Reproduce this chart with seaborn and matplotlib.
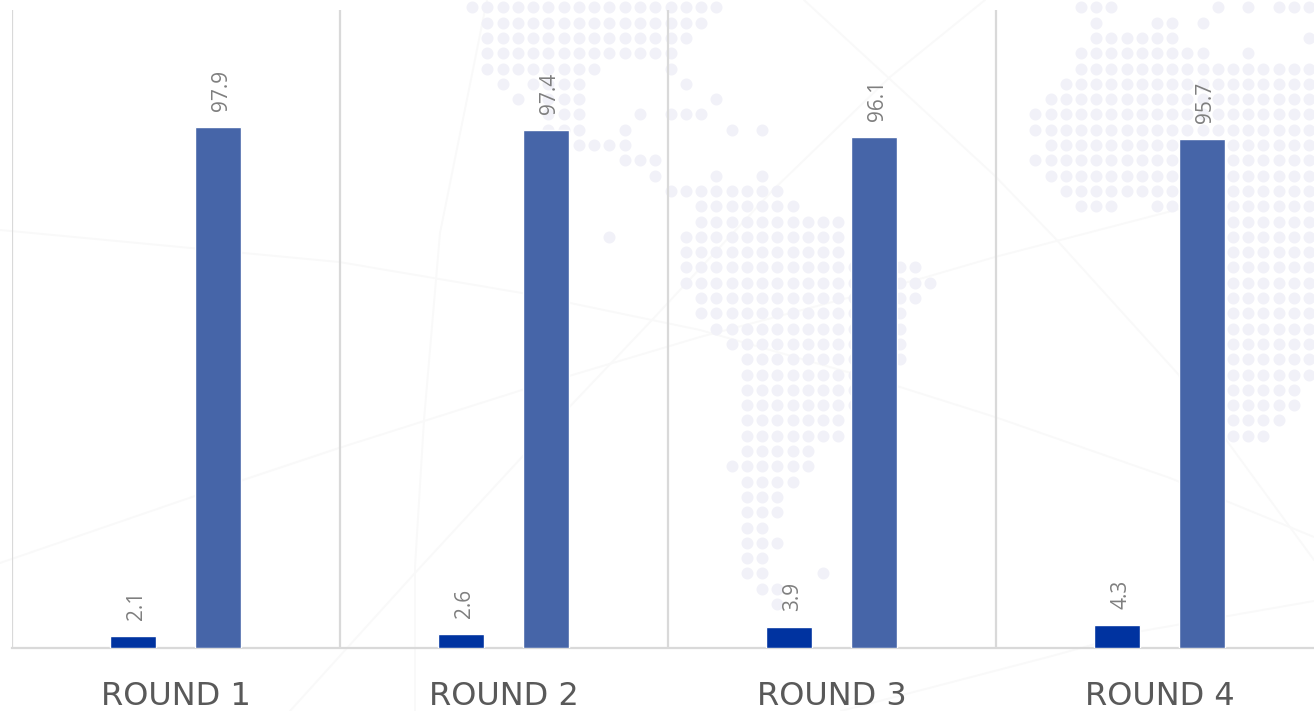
import matplotlib
matplotlib.use("Agg")
import matplotlib.pyplot as plt
import pandas as pd
import seaborn as sns

# chart values
rounds = ["ROUND 1", "ROUND 2", "ROUND 3", "ROUND 4"]
first_values = [2.1, 2.6, 3.9, 4.3]
second_values = [97.9, 97.4, 96.1, 95.7]
bar_colors = ["#0033A0", "#4665A8"]

W, H = 1314, 711

# background watermark: dotted map, (row, first col, last col) on a regular grid
map_left = [
    (0, 0, 16), (1, 1, 15), (2, 1, 14), (3, 1, 13), (4, 1, 8), (4, 13, 13),
    (5, 2, 2), (5, 4, 7), (5, 14, 14), (6, 3, 3), (6, 5, 7), (6, 16, 16),
    (7, 5, 7), (7, 11, 11), (7, 13, 15), (8, 5, 7), (8, 10, 10), (8, 17, 17), (8, 19, 19),
    (9, 7, 10), (10, 10, 12), (11, 12, 12), (11, 16, 16), (11, 19, 19),
    (12, 13, 20), (13, 15, 21), (14, 15, 24), (15, 9, 9), (15, 14, 24), (16, 14, 24),
    (17, 14, 29), (18, 14, 30), (19, 15, 29), (20, 15, 28), (21, 16, 28),
    (22, 17, 28), (23, 18, 28), (24, 18, 27), (25, 18, 27), (26, 18, 27),
    (27, 18, 24), (28, 18, 24), (29, 18, 22), (30, 17, 22), (31, 18, 21),
    (32, 18, 20), (33, 18, 20), (34, 18, 19), (35, 18, 20), (36, 18, 19),
    (37, 18, 19), (37, 23, 23), (38, 19, 20), (39, 20, 20),
]
map_right = [
    (0, 0, 2), (0, 9, 9), (0, 11, 11), (0, 13, 15), (1, 1, 1), (1, 5, 6), (1, 8, 8),
    (2, 1, 6), (2, 15, 15), (3, 0, 8), (3, 11, 11), (4, 0, 15), (5, -1, 15),
    (6, -2, 15), (7, -3, 15), (8, -3, 15), (9, -2, 15), (10, -3, 15), (11, -2, 15),
    (12, -1, 15), (13, 0, 2), (13, 5, 15), (14, 10, 15), (15, 10, 15), (16, 10, 15),
    (17, 10, 15), (18, 10, 15), (19, 10, 15), (20, 10, 15), (21, 10, 15), (22, 10, 15),
    (23, 10, 15), (24, 10, 15), (25, 10, 14), (26, 10, 14), (27, 10, 13), (28, 10, 12),
]

# background watermark: faint network lines
net_lines = [
    [(0, 230), (339, 262), (522, 293), (700, 330), (900, 387), (995, 417), (1170, 478), (1314, 537)],
    [(0, 563), (192, 497), (339, 448), (522, 390), (700, 337), (923, 278), (995, 257), (1195, 205)],
    [(487, 0), (440, 233), (424, 420), (415, 567), (415, 711)],
    [(290, 711), (415, 573), (522, 457), (652, 320), (773, 190), (890, 77), (985, 0)],
    [(804, 0), (994, 175), (1054, 237), (1178, 374), (1314, 560)],
    [(841, 711), (1052, 656), (1142, 631), (1314, 601)],
]

df = pd.DataFrame({
    "round": rounds * 2,
    "value": first_values + second_values,
    "series": ["first"] * 4 + ["second"] * 4,
})

sns.set_theme(style="white")
plt.rcParams["font.family"] = ["Open Sans", "DejaVu Sans"]

fig = plt.figure(figsize=(W / 100, H / 100), dpi=100, facecolor="white")

# full-figure axes in pixel units for the watermark
bg = fig.add_axes([0, 0, 1, 1], zorder=0)
bg.set_xlim(0, W)
bg.set_ylim(H, 0)
bg.axis("off")
for line in net_lines:
    bg.plot([p[0] for p in line], [p[1] for p in line], color="#f9f9f9", lw=1.4, zorder=1)
for spans, x0, pitch in [(map_left, 472, 15.27), (map_right, 1081, 15.2)]:
    xs, ys = [], []
    for row, c1, c2 in spans:
        for c in range(c1, c2 + 1):
            xs.append(x0 + c * pitch)
            ys.append(7.3 + row * 15.3)
    bg.scatter(xs, ys, s=74, color="#f1f1f8", linewidths=0, zorder=2)

# main axes, runs past the right edge like the original
ax = fig.add_axes([11.7 / W, (H - 647.5) / H, 1312 / W, 638 / H], zorder=1)
ax.patch.set_alpha(0)
sns.barplot(data=df, x="round", y="value", hue="series", palette=bar_colors, saturation=1,
            width=0.518, gap=0.46, legend=False, ax=ax, zorder=3)

ax.set_xlim(-0.5, 3.5)
ax.set_ylim(0, 120)
ax.set_xlabel("")
ax.set_ylabel("")
ax.set_yticks([])
ax.set_xticks([-0.5, 0.5, 1.5, 2.5, 3.5], minor=True)
ax.grid(True, which="minor", axis="x", color="#d9d9d9", lw=1.6, zorder=1)
ax.tick_params(axis="x", which="both", length=0)
ax.tick_params(axis="x", which="major", pad=24, labelsize=23)
for label in ax.get_xticklabels():
    label.set_family("DejaVu Sans")
    label.set_color("#595959")
sns.despine(ax=ax, left=True, top=True, right=True)
ax.spines["bottom"].set_color("#d9d9d9")
ax.spines["bottom"].set_linewidth(1.6)

for container in ax.containers:
    labels = ax.bar_label(container, fmt="%.1f", rotation=90, padding=11, fontsize=15, color="#7f7f7f")
    # nudge the rotated text onto the bar centre
    for t in labels:
        t.xyann = (2.5, 11.5)

fig.savefig("out.png", dpi=100)
